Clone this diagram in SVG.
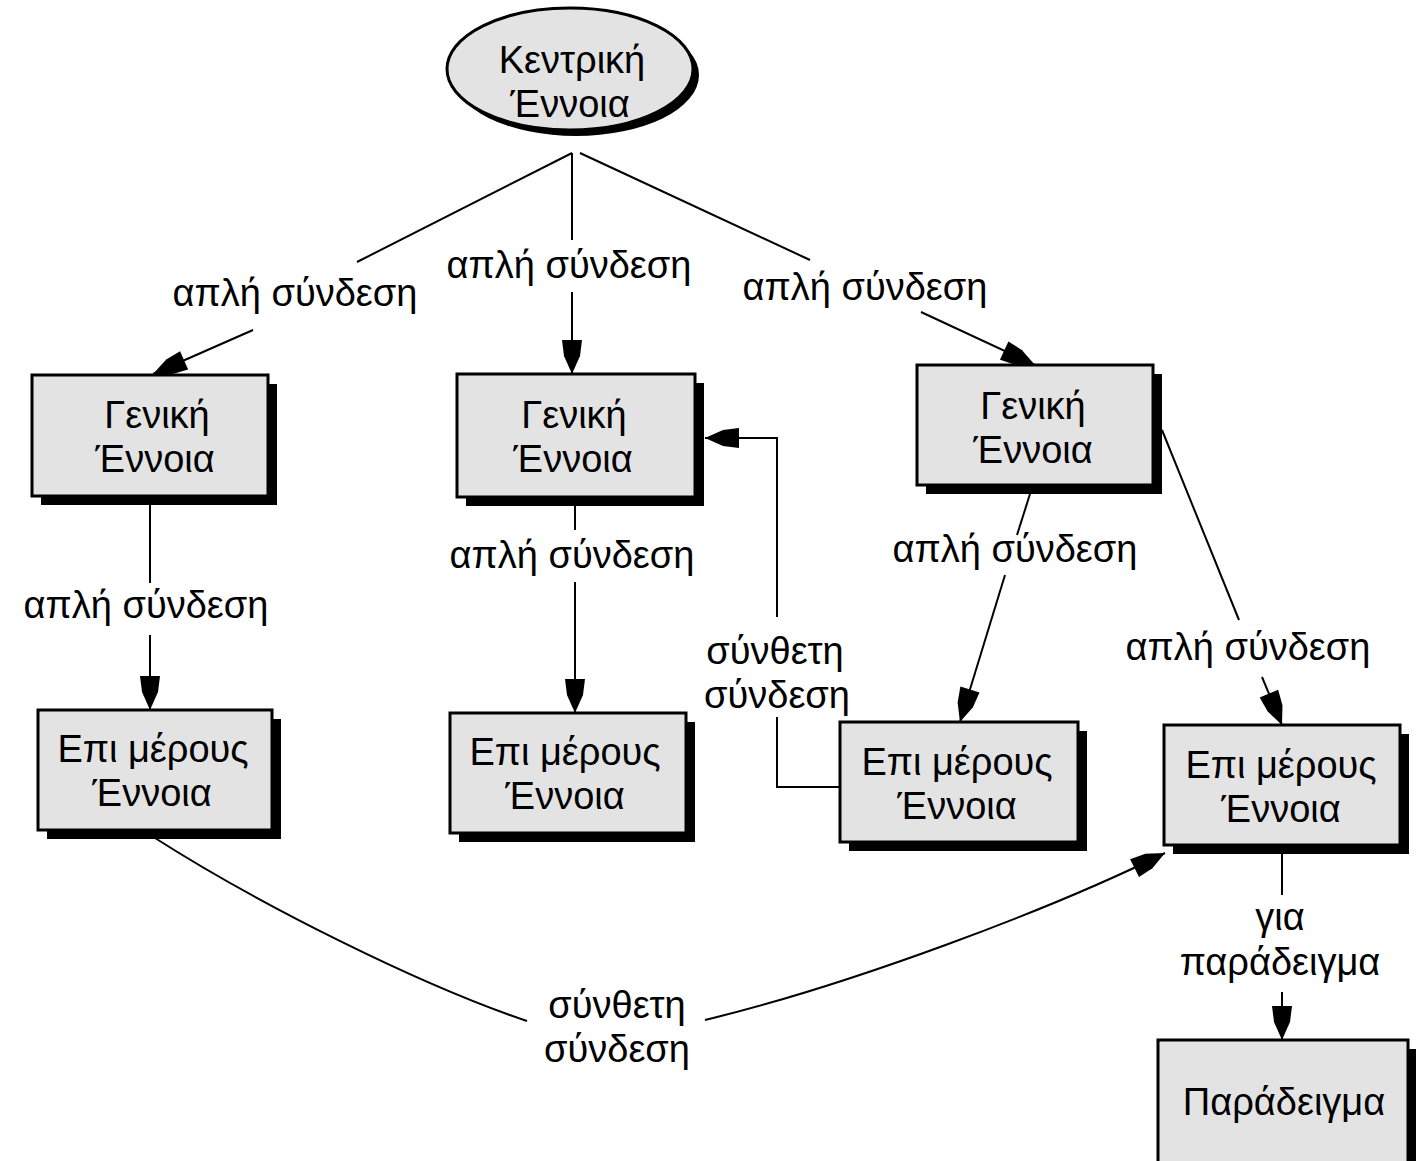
<svg xmlns="http://www.w3.org/2000/svg" width="1416" height="1161" viewBox="0 0 1416 1161">
<style>
.bg{fill:#ffffff}
.shadow{fill:#000000}
.box{fill:#e3e3e3;stroke:#000000;stroke-width:3}
.t{font-family:"Liberation Sans","DejaVu Sans",Arial,sans-serif;font-size:38px;fill:#000000;text-anchor:middle}
.c{fill:none;stroke:#000000;stroke-width:2}
</style>
<defs>
<marker id="ah" markerUnits="userSpaceOnUse" markerWidth="40" markerHeight="24" refX="0" refY="0" viewBox="-38 -12 40 24" orient="auto" overflow="visible">
<path d="M0,0 L-18,-8 L-34,-10 L-34,10 L-18,8 Z" fill="#000000"/>
</marker>
</defs>
<rect class="bg" x="0" y="0" width="1416" height="1161"/>

<g id="connectors">
<path class="c" d="M572,153 L357,262"/>
<path class="c" d="M253,330 L153,374" marker-end="url(#ah)"/>
<path class="c" d="M572,153 L572,240"/>
<path class="c" d="M572,292 L572,374" marker-end="url(#ah)"/>
<path class="c" d="M580,153 L810,260"/>
<path class="c" d="M921,312 L1035,365" marker-end="url(#ah)"/>
<path class="c" d="M150,505 L150,583"/>
<path class="c" d="M150,635 L150,710" marker-end="url(#ah)"/>
<path class="c" d="M575,506 L575,530"/>
<path class="c" d="M575,582 L575,713" marker-end="url(#ah)"/>
<path class="c" d="M1030,494 L1017,535"/>
<path class="c" d="M1005,575 L960,722" marker-end="url(#ah)"/>
<path class="c" d="M1162,430 L1239,620"/>
<path class="c" d="M1262,677 L1282,725" marker-end="url(#ah)"/>
<path class="c" d="M840,787 H777 V717"/>
<path class="c" d="M777,617 V438 H705" marker-end="url(#ah)"/>
<path class="c" d="M155,838 C260,905 420,985 527,1021"/>
<path class="c" d="M705,1020 C850,985 1050,910 1165,853" marker-end="url(#ah)"/>
<path class="c" d="M1282,853 L1282,895"/>
<path class="c" d="M1282,992 L1282,1040" marker-end="url(#ah)"/>
</g>

<g id="labels">
<text class="t" x="295" y="306">απλή σύνδεση</text>
<text class="t" x="569" y="278">απλή σύνδεση</text>
<text class="t" x="865" y="300">απλή σύνδεση</text>
<text class="t" x="146" y="618">απλή σύνδεση</text>
<text class="t" x="572" y="568">απλή σύνδεση</text>
<text class="t" x="1015" y="562">απλή σύνδεση</text>
<text class="t" x="1248" y="660">απλή σύνδεση</text>
<text class="t" x="775" y="664">σύνθετη</text>
<text class="t" x="777" y="708">σύνδεση</text>
<text class="t" x="617" y="1018">σύνθετη</text>
<text class="t" x="617" y="1062">σύνδεση</text>
<text class="t" x="1280" y="930">για</text>
<text class="t" x="1280" y="975">παράδειγμα</text>
</g>

<g id="central">
<ellipse class="shadow" cx="576" cy="75" rx="123" ry="61"/>
<ellipse class="box" cx="570" cy="69" rx="123" ry="61"/>
<text class="t" x="572" y="73">Κεντρική</text>
<text class="t" x="570" y="117">Έννοια</text>
</g>

<g id="general1">
<rect class="shadow" x="41" y="384" width="236" height="121"/>
<rect class="box" x="32" y="375" width="236" height="121"/>
<text class="t" x="157" y="428">Γενική</text>
<text class="t" x="155" y="472">Έννοια</text>
</g>

<g id="general2">
<rect class="shadow" x="466" y="383" width="238" height="123"/>
<rect class="box" x="457" y="374" width="238" height="123"/>
<text class="t" x="574" y="428">Γενική</text>
<text class="t" x="573" y="472">Έννοια</text>
</g>

<g id="general3">
<rect class="shadow" x="926" y="374" width="236" height="120"/>
<rect class="box" x="917" y="365" width="236" height="120"/>
<text class="t" x="1033" y="419">Γενική</text>
<text class="t" x="1033" y="463">Έννοια</text>
</g>

<g id="specific1">
<rect class="shadow" x="47" y="719" width="234" height="120"/>
<rect class="box" x="38" y="710" width="234" height="120"/>
<text class="t" x="153" y="762">Επι μέρους</text>
<text class="t" x="152" y="806">Έννοια</text>
</g>

<g id="specific2">
<rect class="shadow" x="459" y="722" width="236" height="120"/>
<rect class="box" x="450" y="713" width="236" height="120"/>
<text class="t" x="565" y="765">Επι μέρους</text>
<text class="t" x="565" y="809">Έννοια</text>
</g>

<g id="specific3">
<rect class="shadow" x="849" y="731" width="238" height="120"/>
<rect class="box" x="840" y="722" width="238" height="120"/>
<text class="t" x="957" y="775">Επι μέρους</text>
<text class="t" x="957" y="819">Έννοια</text>
</g>

<g id="specific4">
<rect class="shadow" x="1173" y="734" width="236" height="120"/>
<rect class="box" x="1164" y="725" width="236" height="120"/>
<text class="t" x="1281" y="778">Επι μέρους</text>
<text class="t" x="1281" y="822">Έννοια</text>
</g>

<g id="example">
<rect class="shadow" x="1167" y="1049" width="250" height="130"/>
<rect class="box" x="1158" y="1040" width="250" height="130"/>
<text class="t" x="1284" y="1115">Παράδειγμα</text>
</g>
</svg>
